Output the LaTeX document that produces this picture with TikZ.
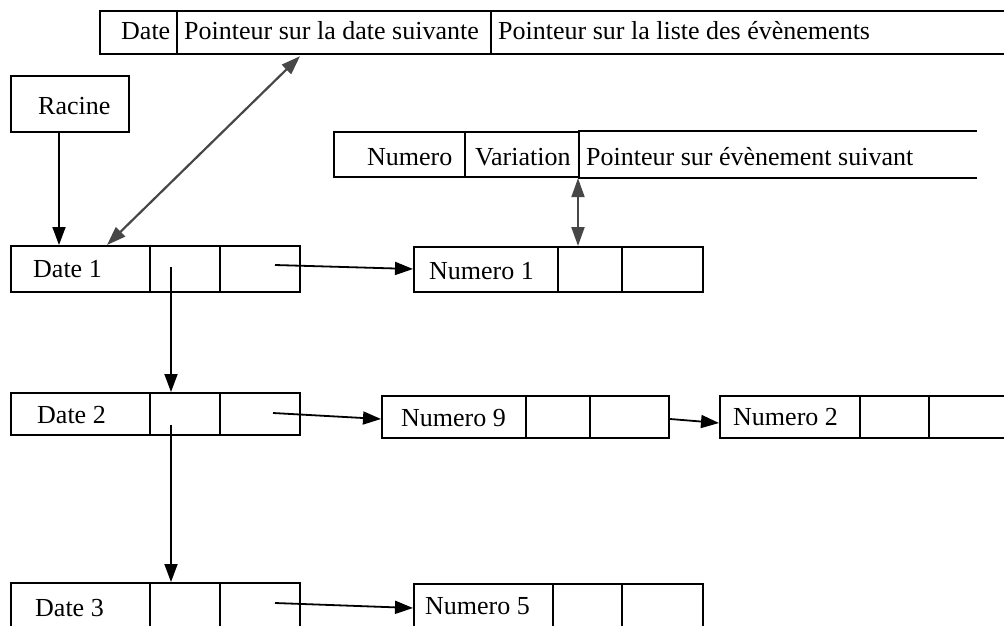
\documentclass[tikz,border=0pt]{standalone}
\usepackage{fontspec}
\setmainfont{Liberation Serif}
\usetikzlibrary{arrows.meta,calc}
\tikzset{
  cell/.style={draw, line width=2.2pt, rectangle, inner sep=0pt, anchor=north west, minimum height=#1},
  cell/.default=46pt,
  lbl/.style={anchor=base west, inner sep=0pt, font=\fontsize{26}{30}\selectfont},
  arr/.style={line width=1.8pt, -{Triangle[length=18pt,width=13pt]}},
  darr/.style={line width=2.2pt, draw=black!72, {Triangle[length=19pt,width=13pt]}-{Triangle[length=19pt,width=13pt]}, fill=black!72},
}
\begin{document}
\begin{tikzpicture}[x=1pt,y=-1pt]
\useasboundingbox (0,0) rectangle (1004,625);
\clip (0,0) rectangle (1004,625);
% top header box
\node[cell=43pt, minimum width=77pt] (h1a) at (99,10) {};
\node[cell=43pt, minimum width=314pt] (h1b) at (176,10) {};
\node[cell=43pt, minimum width=540pt] (h1c) at (490,10) {};
\node[lbl] (t1a) at (121,39) {Date};
\node[lbl] (t1b) at (184,39) {Pointeur sur la date suivante};
\node[lbl] (t1c) at (498,39) {Pointeur sur la liste des évènements};
% second header box
\node[cell=45pt, minimum width=131pt] (h2a) at (333,131) {};
\node[cell=45pt, minimum width=114pt] (h2b) at (464,131) {};
\node[cell=45pt, minimum width=397pt, draw=none] (h2c) at (578,131) {};
\draw[line width=2.2pt] (h2c.north west) -- (h2c.north east) (h2c.south west) -- (h2c.south east);
\node[lbl] (t2a) at (367,165) {Numero};
\node[lbl] (t2b) at (475,165) {Variation};
\node[lbl] (t2c) at (586,165) {Pointeur sur évènement suivant};
% Racine
\node[cell=56pt, minimum width=118pt] (racine) at (10,75) {};
\node[lbl] (tr) at (38,114) {Racine};
% Date rows
\node[cell=46pt, minimum width=139pt] (d1a) at (10,245) {};
\node[cell=46pt, minimum width=70pt] (d1b) at (149,245) {};
\node[cell=46pt, minimum width=80pt] (d1c) at (219,245) {};
\node[lbl] (td1) at (33,277) {Date 1};
\node[cell=42pt, minimum width=139pt] (d2a) at (10,392) {};
\node[cell=42pt, minimum width=70pt] (d2b) at (149,392) {};
\node[cell=42pt, minimum width=80pt] (d2c) at (219,392) {};
\node[lbl] (td2) at (37,423) {Date 2};
\node[cell=60pt, minimum width=139pt] (d3a) at (10,582) {};
\node[cell=60pt, minimum width=70pt] (d3b) at (149,582) {};
\node[cell=60pt, minimum width=80pt] (d3c) at (219,582) {};
\node[lbl] (td3) at (35,616) {Date 3};
% Numero boxes
\node[cell=45pt, minimum width=144pt] (n1a) at (413,246) {};
\node[cell=45pt, minimum width=64pt] (n1b) at (557,246) {};
\node[cell=45pt, minimum width=81pt] (n1c) at (621,246) {};
\node[lbl] (tn1) at (429,279) {Numero 1};
\node[cell=42pt, minimum width=144pt] (n9a) at (381,395) {};
\node[cell=42pt, minimum width=64pt] (n9b) at (525,395) {};
\node[cell=42pt, minimum width=79pt] (n9c) at (589,395) {};
\node[lbl] (tn9) at (401,426) {Numero 9};
\node[cell=42pt, minimum width=140pt] (n2a) at (719,395) {};
\node[cell=42pt, minimum width=69pt] (n2b) at (859,395) {};
\node[cell=42pt, minimum width=100pt] (n2c) at (928,395) {};
\node[lbl] (tn2) at (733,425) {Numero 2};
\node[cell=60pt, minimum width=139pt] (n5a) at (413,583) {};
\node[cell=60pt, minimum width=69pt] (n5b) at (552,583) {};
\node[cell=60pt, minimum width=81pt] (n5c) at (621,583) {};
\node[lbl] (tn5) at (425,614) {Numero 5};
% connectors
\draw[arr] ($(racine.south west)+(49,0)$) -- ($(d1a.north west)+(49,0)$);
\draw[arr] ($(d1b.north west)+(22,22)$) -- ($(d2b.north west)+(22,0)$);
\draw[arr] ($(d2b.north west)+(22,33)$) -- ($(d3b.north west)+(22,0)$);
\draw[arr] ($(d1c.north west)+(56,20)$) -- ($(n1a.north west)+(0,23)$);
\draw[arr] ($(d2c.north west)+(54,21)$) -- ($(n9a.north west)+(0,24)$);
\draw[arr] ($(n9c.north east)+(0,24)$) -- ($(n2a.north west)+(0,28)$);
\draw[arr] ($(d3c.north west)+(56,21)$) -- ($(n5a.north west)+(0,25)$);
\draw[darr] ($(d1a.north west)+(97,0)$) -- ($(h1b.south west)+(124,1)$);
\draw[darr] (h2c.south west) -- ($(n1b.north west)+(21,0)$);
\end{tikzpicture}
\end{document}
